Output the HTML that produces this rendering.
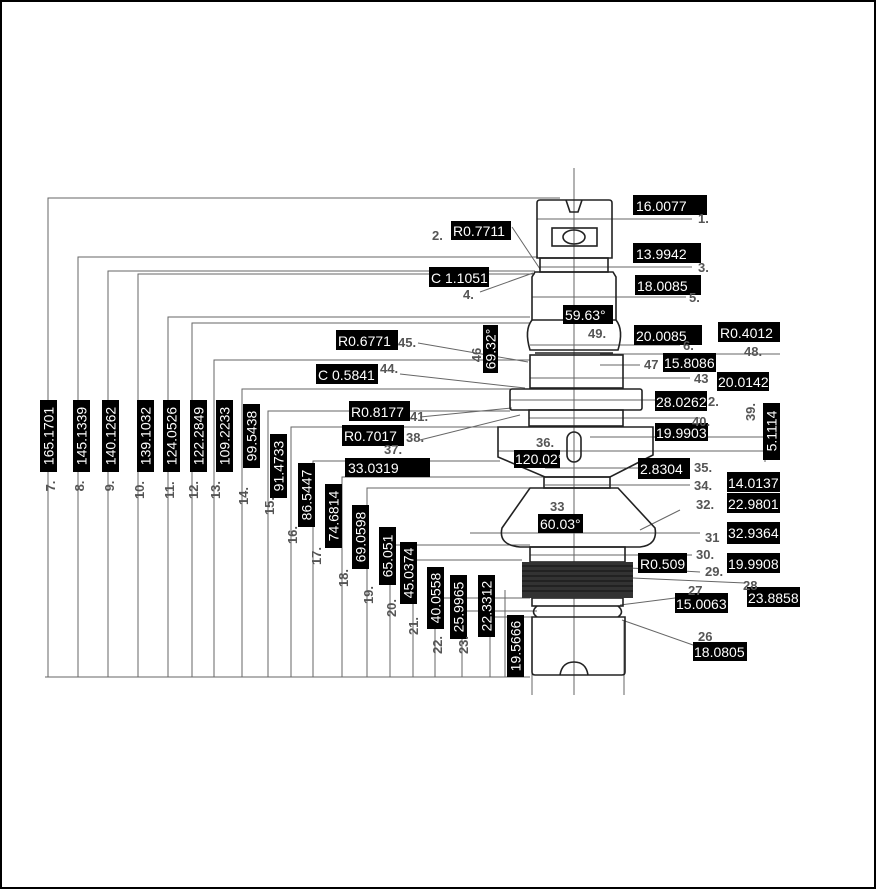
<!DOCTYPE html>
<html><head><meta charset="utf-8"><style>
html,body{margin:0;padding:0;background:#fff}
svg{display:block}
.b{fill:#000}
.w{fill:#fff;font-family:"Liberation Sans",sans-serif;font-size:14px}
.n{fill:#555;font-family:"Liberation Sans",sans-serif;font-size:13px;font-weight:bold}
.l{stroke:#666;stroke-width:1;fill:none}
.p{stroke:#222;stroke-width:1.6;fill:none}
</style></head><body>
<svg width="876" height="889" viewBox="0 0 876 889" xmlns="http://www.w3.org/2000/svg">
<rect x="1" y="1" width="874" height="887" fill="#fff" stroke="#000" stroke-width="2"/>
<g class="l">
<line x1="45" y1="677" x2="530" y2="677"/>
<polyline points="48,677 48,198 560,198"/>
<polyline points="78,677 78,257 538,257"/>
<polyline points="108,677 108,271 535,271"/>
<polyline points="138,677 138,274 535,274"/>
<polyline points="168,677 168,317 530,317"/>
<polyline points="192,677 192,323 530,323"/>
<polyline points="214,677 214,360 530,360"/>
<polyline points="242,677 242,389 512,389"/>
<polyline points="268,677 268,411 510,411"/>
<polyline points="291,677 291,427 500,427"/>
<polyline points="313,677 313,461 500,461"/>
<polyline points="342,677 342,477 545,477"/>
<polyline points="367,677 367,488 545,488"/>
<polyline points="390,677 390,545 530,545"/>
<polyline points="413,677 413,560 522,560"/>
<polyline points="435,677 435,598 530,598"/>
<polyline points="462,677 462,611 537,611"/>
<polyline points="490,677 490,617 532,617"/>
<line x1="505" y1="590" x2="505" y2="677"/>
<line x1="574" y1="168" x2="574" y2="695"/>
<line x1="532" y1="620" x2="532" y2="695"/>
<line x1="624" y1="620" x2="624" y2="695"/>
<line x1="537" y1="219" x2="692" y2="219"/>
<line x1="540" y1="267" x2="692" y2="267"/>
<line x1="532" y1="297" x2="686" y2="297"/>
<line x1="530" y1="345" x2="680" y2="345"/>
<line x1="600" y1="354" x2="780" y2="354"/>
<line x1="600" y1="365" x2="640" y2="365"/>
<line x1="530" y1="378" x2="690" y2="378"/>
<line x1="510" y1="400" x2="706" y2="400"/>
<line x1="529" y1="418" x2="700" y2="418"/>
<line x1="590" y1="437" x2="780" y2="437"/>
<line x1="498" y1="451" x2="780" y2="451"/>
<line x1="545" y1="468" x2="690" y2="468"/>
<line x1="545" y1="485" x2="690" y2="485"/>
<line x1="470" y1="533" x2="700" y2="533"/>
<line x1="530" y1="555" x2="692" y2="555"/>
<line x1="630" y1="568" x2="700" y2="572"/>
<line x1="633" y1="578" x2="745" y2="583"/>
<line x1="620" y1="605" x2="675" y2="598"/>
<line x1="622" y1="620" x2="693" y2="645"/>
<line x1="512" y1="227" x2="540" y2="269"/>
<line x1="480" y1="292" x2="533" y2="273"/>
<line x1="418" y1="343" x2="528" y2="362"/>
<line x1="400" y1="374" x2="525" y2="388"/>
<line x1="420" y1="417" x2="512" y2="408"/>
<line x1="420" y1="440" x2="520" y2="415"/>
<line x1="680" y1="510" x2="640" y2="530"/>
<line x1="765" y1="410" x2="765" y2="462"/>
</g>
<g class="p">
<path d="M537,203 Q537,200 540,200 L609,200 Q612,200 612,203 L612,258 L537,258 Z"/>
<path d="M566,200 L570,212 L578,212 L582,200"/>
<rect x="552" y="228" width="45" height="18"/>
<ellipse cx="574" cy="237" rx="11" ry="7"/>
<rect x="540" y="258" width="68" height="14"/>
<path d="M535,272 L613,272 L616,277 L616,320 L532,320 L532,277 Z"/>
<path d="M532,320 Q524,330 530,350 L618,350 Q624,330 616,320"/>
<line x1="535" y1="353" x2="613" y2="353"/>
<rect x="530" y="355" width="93" height="33"/>
<rect x="510" y="389" width="132" height="21" rx="2"/>
<rect x="529" y="410" width="94" height="16"/>
<path d="M498,427 L653,427 L653,455 L610,477 L545,477 L498,457 Z"/>
<rect x="567" y="432" width="14" height="30" rx="7"/>
<rect x="544" y="477" width="66" height="11"/>
<path d="M530,488 L618,488 L655,528 Q658,545 640,547 L520,547 Q498,545 502,528 Z"/>
<rect x="530" y="547" width="95" height="15"/>
<rect x="532" y="598" width="91" height="8"/>
<path d="M537,606 Q530,612 537,617 M618,606 Q625,612 618,617"/>
<path d="M532,617 L625,617 L625,672 Q625,675 622,675 L535,675 Q532,675 532,672 Z"/>
<path d="M560,675 Q562,662 574,662 Q586,662 588,675"/>
</g>
<rect x="522" y="562" width="111" height="36" fill="#333"/>
<g stroke="#111" stroke-width="1">
<line x1="522" y1="566" x2="633" y2="566"/><line x1="522" y1="571" x2="633" y2="571"/><line x1="522" y1="576" x2="633" y2="576"/><line x1="522" y1="581" x2="633" y2="581"/><line x1="522" y1="586" x2="633" y2="586"/><line x1="522" y1="591" x2="633" y2="591"/>
</g>
<g>
<rect class="b" x="40" y="400" width="17" height="72"/><text class="w" transform="rotate(-90 48.5 436)" x="48.5" y="441" text-anchor="middle">165.1701</text>
<rect class="b" x="73" y="400" width="17" height="72"/><text class="w" transform="rotate(-90 81.5 436)" x="81.5" y="441" text-anchor="middle">145.1339</text>
<rect class="b" x="102" y="400" width="17" height="72"/><text class="w" transform="rotate(-90 110.5 436)" x="110.5" y="441" text-anchor="middle">140.1262</text>
<rect class="b" x="137" y="400" width="17" height="72"/><text class="w" transform="rotate(-90 145.5 436)" x="145.5" y="441" text-anchor="middle">139.1032</text>
<rect class="b" x="163" y="400" width="17" height="72"/><text class="w" transform="rotate(-90 171.5 436)" x="171.5" y="441" text-anchor="middle">124.0526</text>
<rect class="b" x="190" y="400" width="17" height="72"/><text class="w" transform="rotate(-90 198.5 436)" x="198.5" y="441" text-anchor="middle">122.2849</text>
<rect class="b" x="216" y="400" width="17" height="72"/><text class="w" transform="rotate(-90 224.5 436)" x="224.5" y="441" text-anchor="middle">109.2233</text>
<rect class="b" x="243" y="404" width="17" height="64"/><text class="w" transform="rotate(-90 251.5 436)" x="251.5" y="441" text-anchor="middle">99.5438</text>
<rect class="b" x="270" y="434" width="17" height="64"/><text class="w" transform="rotate(-90 278.5 466)" x="278.5" y="471" text-anchor="middle">91.4733</text>
<rect class="b" x="298" y="463" width="17" height="64"/><text class="w" transform="rotate(-90 306.5 495)" x="306.5" y="500" text-anchor="middle">86.5447</text>
<rect class="b" x="325" y="484" width="17" height="64"/><text class="w" transform="rotate(-90 333.5 516)" x="333.5" y="521" text-anchor="middle">74.6814</text>
<rect class="b" x="352" y="505" width="17" height="64"/><text class="w" transform="rotate(-90 360.5 537)" x="360.5" y="542" text-anchor="middle">69.0598</text>
<rect class="b" x="379" y="527" width="17" height="58"/><text class="w" transform="rotate(-90 387.5 556)" x="387.5" y="561" text-anchor="middle">65.051</text>
<rect class="b" x="400" y="542" width="17" height="62"/><text class="w" transform="rotate(-90 408.5 573)" x="408.5" y="578" text-anchor="middle">45.0374</text>
<rect class="b" x="427" y="567" width="17" height="62"/><text class="w" transform="rotate(-90 435.5 598)" x="435.5" y="603" text-anchor="middle">40.0558</text>
<rect class="b" x="450" y="575" width="17" height="64"/><text class="w" transform="rotate(-90 458.5 607)" x="458.5" y="612" text-anchor="middle">25.9965</text>
<rect class="b" x="478" y="575" width="17" height="62"/><text class="w" transform="rotate(-90 486.5 606)" x="486.5" y="611" text-anchor="middle">22.3312</text>
<rect class="b" x="507" y="615" width="17" height="62"/><text class="w" transform="rotate(-90 515.5 646)" x="515.5" y="651" text-anchor="middle">19.5666</text>
<rect class="b" x="483" y="325" width="15" height="48"/><text class="w" transform="rotate(-90 490.5 349)" x="490.5" y="354" text-anchor="middle" font-size="13">69.32°</text>
<rect class="b" x="763" y="403" width="17" height="57"/><text class="w" transform="rotate(-90 771.5 431)" x="771.5" y="436" text-anchor="middle">5.1114</text>
</g>
<g class="n" text-anchor="middle">
<text transform="rotate(-90 50 486)" x="50" y="491">7.</text>
<text transform="rotate(-90 79 486)" x="79" y="491">8.</text>
<text transform="rotate(-90 109 486)" x="109" y="491">9.</text>
<text transform="rotate(-90 139 490)" x="139" y="495">10.</text>
<text transform="rotate(-90 169 490)" x="169" y="495">11.</text>
<text transform="rotate(-90 193 490)" x="193" y="495">12.</text>
<text transform="rotate(-90 215 490)" x="215" y="495">13.</text>
<text transform="rotate(-90 243 496)" x="243" y="501">14.</text>
<text transform="rotate(-90 269 506)" x="269" y="511">15.</text>
<text transform="rotate(-90 292 535)" x="292" y="540">16.</text>
<text transform="rotate(-90 316 556)" x="316" y="561">17.</text>
<text transform="rotate(-90 343 578)" x="343" y="583">18.</text>
<text transform="rotate(-90 368 595)" x="368" y="600">19.</text>
<text transform="rotate(-90 391 608)" x="391" y="613">20.</text>
<text transform="rotate(-90 413 626)" x="413" y="631">21.</text>
<text transform="rotate(-90 437 645)" x="437" y="650">22.</text>
<text transform="rotate(-90 463 645)" x="463" y="650">23.</text>
<text transform="rotate(-90 476 355)" x="476" y="360">46</text>
<text transform="rotate(-90 750 412)" x="750" y="417">39.</text>
</g>
<g>
<rect class="b" x="633" y="195" width="74" height="20"/><text class="w" x="636" y="211">16.0077</text>
<rect class="b" x="451" y="221" width="60" height="19"/><text class="w" x="453" y="236">R0.7711</text>
<rect class="b" x="633" y="243" width="68" height="20"/><text class="w" x="636" y="259">13.9942</text>
<rect class="b" x="429" y="267" width="60" height="20"/><text class="w" x="431" y="283">C 1.1051</text>
<rect class="b" x="635" y="275" width="66" height="20"/><text class="w" x="637" y="291">18.0085</text>
<rect class="b" x="563" y="305" width="50" height="19"/><text class="w" x="565" y="320">59.63°</text>
<rect class="b" x="634" y="325" width="68" height="20"/><text class="w" x="636" y="341">20.0085</text>
<rect class="b" x="718" y="322" width="62" height="20"/><text class="w" x="720" y="338">R0.4012</text>
<rect class="b" x="336" y="330" width="62" height="20"/><text class="w" x="338" y="346">R0.6771</text>
<rect class="b" x="663" y="353" width="53" height="19"/><text class="w" x="664" y="368">15.8086</text>
<rect class="b" x="316" y="364" width="62" height="20"/><text class="w" x="318" y="380">C 0.5841</text>
<rect class="b" x="717" y="372" width="52" height="19"/><text class="w" x="718" y="387">20.0142</text>
<rect class="b" x="655" y="391" width="52" height="20"/><text class="w" x="656" y="407">28.0262</text>
<rect class="b" x="349" y="401" width="61" height="20"/><text class="w" x="351" y="417">R0.8177</text>
<rect class="b" x="655" y="423" width="53" height="18"/><text class="w" x="656" y="438">19.9903</text>
<rect class="b" x="342" y="425" width="62" height="21"/><text class="w" x="344" y="441">R0.7017</text>
<rect class="b" x="514" y="450" width="46" height="18"/><text class="w" x="515" y="464" font-size="13">120.02°</text>
<rect class="b" x="638" y="458" width="52" height="21"/><text class="w" x="640" y="474">2.8304</text>
<rect class="b" x="345" y="458" width="85" height="19"/><text class="w" x="348" y="473">33.0319</text>
<rect class="b" x="727" y="472" width="53" height="20"/><text class="w" x="728" y="488">14.0137</text>
<rect class="b" x="727" y="493" width="53" height="20"/><text class="w" x="728" y="509">22.9801</text>
<rect class="b" x="538" y="514" width="45" height="19"/><text class="w" x="540" y="529">60.03°</text>
<rect class="b" x="727" y="522" width="53" height="22"/><text class="w" x="728" y="538">32.9364</text>
<rect class="b" x="638" y="553" width="49" height="20"/><text class="w" x="640" y="569">R0.509</text>
<rect class="b" x="727" y="553" width="53" height="20"/><text class="w" x="728" y="569">19.9908</text>
<rect class="b" x="747" y="587" width="53" height="20"/><text class="w" x="748" y="603">23.8858</text>
<rect class="b" x="675" y="593" width="53" height="20"/><text class="w" x="676" y="609">15.0063</text>
<rect class="b" x="693" y="642" width="54" height="19"/><text class="w" x="694" y="657">18.0805</text>
</g>
<g class="n">
<text x="698" y="223">1.</text><text x="432" y="240">2.</text><text x="698" y="272">3.</text>
<text x="463" y="299">4.</text><text x="689" y="302">5.</text><text x="588" y="338">49.</text>
<text x="683" y="350">6.</text><text x="744" y="356">48.</text><text x="398" y="347">45.</text>
<text x="644" y="369">47</text><text x="380" y="373">44.</text><text x="694" y="383">43</text>
<text x="708" y="406">2.</text><text x="410" y="421">41.</text><text x="692" y="426">40.</text>
<text x="406" y="442">38.</text><text x="384" y="454">37.</text><text x="536" y="447">36.</text>
<text x="694" y="472">35.</text><text x="694" y="490">34.</text><text x="696" y="509">32.</text>
<text x="550" y="511">33</text><text x="705" y="542">31</text><text x="696" y="559">30.</text>
<text x="705" y="576">29.</text><text x="743" y="590">28</text><text x="688" y="595">27</text>
<text x="698" y="641">26</text>
</g>
</svg>
</body></html>
